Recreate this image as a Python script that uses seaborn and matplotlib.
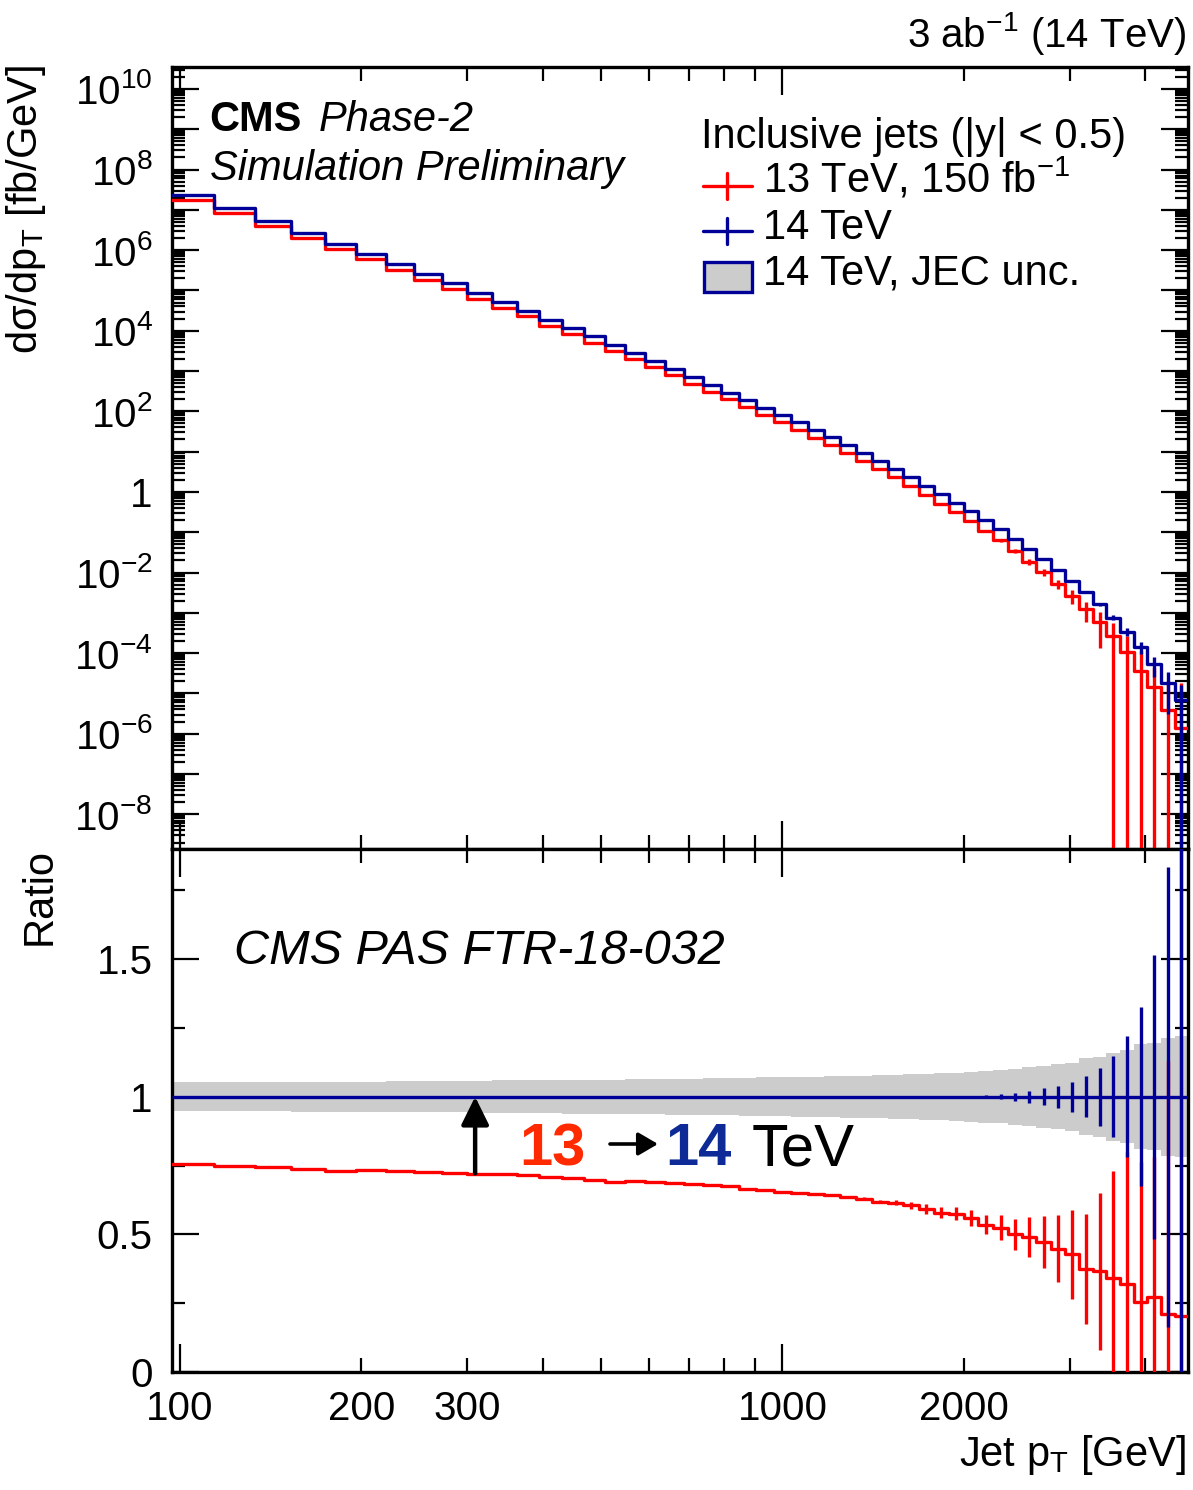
import numpy as np
import pandas as pd
import matplotlib
matplotlib.use("Agg")
import matplotlib.pyplot as plt
import seaborn as sns
from matplotlib.ticker import FixedLocator, FuncFormatter, NullFormatter
from matplotlib.patches import Rectangle, FancyArrowPatch
from matplotlib.lines import Line2D

# ---------------- data ----------------
pt_edges = [97, 114, 133, 153, 174, 196, 220, 245, 272, 300, 330, 362, 395, 430, 468,
            507, 548, 592, 638, 686, 737, 790, 846, 905, 967, 1032, 1101, 1172, 1248,
            1327, 1410, 1497, 1588, 1684, 1784, 1890, 2000, 2116, 2238, 2366, 2500, 2640,
            2787, 2941, 3103, 3273, 3450, 3637, 3832, 4037, 4252, 4477, 4713]

xsec_14tev = [2.38e7, 1.135e7, 5.31e6, 2.72e6, 1.449e6, 8.18e5, 4.47e5, 2.52e5, 1.51e5, 8.67e4,
              5.19e4, 3.16e4, 1.89e4, 1.16e4, 7.23e3, 4.50e3, 2.81e3, 1.78e3, 1.13e3, 701,
              452, 291, 192, 124, 82.8, 53.1, 34.5, 22.5, 14.4, 9.12,
              5.87, 3.72, 2.32, 1.43, 0.891, 0.542, 0.332, 0.202, 0.119, 6.82e-2,
              3.78e-2, 2.15e-2, 1.16e-2, 6.19e-3, 3.30e-3, 1.63e-3, 7.60e-4, 3.36e-4, 1.45e-4, 5.40e-5,
              1.85e-5, 6.90e-6]

xsec_13tev = [1.795e7, 8.49e6, 3.96e6, 2.01e6, 1.058e6, 6.01e5, 3.26e5, 1.832e5, 1.090e5, 6.25e4,
              3.73e4, 2.27e4, 1.338e4, 8.18e3, 5.05e3, 3.11e3, 1.947e3, 1.232e3, 775, 479,
              307, 197, 128, 82.1, 54.2, 34.6, 22.3, 14.4, 9.13, 5.75,
              3.63, 2.29, 1.40, 0.848, 0.516, 0.312, 0.186, 0.108, 0.0624, 0.0341,
              0.0185, 0.01015, 5.2e-3, 2.64e-3, 1.24e-3, 5.97e-4, 2.60e-4, 1.075e-4, 3.67e-5, 1.47e-5,
              3.87e-6, 1.39e-6]

ratio_13_over_14 = [0.754, 0.748, 0.746, 0.739, 0.730, 0.735, 0.730, 0.727, 0.722, 0.721,
                    0.718, 0.717, 0.708, 0.705, 0.699, 0.691, 0.693, 0.692, 0.686, 0.683,
                    0.679, 0.676, 0.666, 0.662, 0.655, 0.651, 0.646, 0.642, 0.634, 0.630,
                    0.619, 0.615, 0.605, 0.593, 0.579, 0.575, 0.561, 0.535, 0.524, 0.500,
                    0.490, 0.472, 0.448, 0.427, 0.375, 0.366, 0.342, 0.320, 0.253, 0.272,
                    0.209, 0.202]

# absolute stat. uncertainty on the 13 TeV ratio
err_ratio_13tev = [0, 0, 0, 0, 0, 0, 0, 0, 0, 0,
                   0, 0, 0, 0, 0, 0, 0, 0, 0, 0,
                   0, 0, 0, 0, 0.001, 0.001, 0.002, 0.002, 0.003, 0.004,
                   0.006, 0.009, 0.012, 0.018, 0.019, 0.023, 0.029, 0.035, 0.045, 0.057,
                   0.074, 0.093, 0.121, 0.16, 0.20, 0.285, 0.39, 0.48, 0.51, 0.51,
                   0.92, 2.5]

# relative stat. uncertainty of 14 TeV, 3 ab^-1
err_rel_14tev = [0, 0, 0, 0, 0, 0, 0, 0, 0, 0,
                 0, 0, 0, 0, 0, 0, 0, 0, 0, 0,
                 0, 0, 0, 0, 0, 0, 0, 0, 0, 0,
                 0, 0, 0, 0, 0.001, 0.0015, 0.002, 0.006, 0.010, 0.015,
                 0.022, 0.030, 0.040, 0.055, 0.075, 0.105, 0.148, 0.22, 0.325, 0.516,
                 0.835, 1.3]

# JEC relative uncertainty band (14 TeV)
jec_unc = [0.052, 0.053, 0.053, 0.054, 0.055, 0.055, 0.056, 0.057, 0.057, 0.058,
           0.059, 0.059, 0.060, 0.061, 0.061, 0.062, 0.063, 0.064, 0.065, 0.066,
           0.067, 0.068, 0.069, 0.070, 0.071, 0.072, 0.073, 0.074, 0.076, 0.077,
           0.079, 0.080, 0.082, 0.084, 0.086, 0.088, 0.090, 0.094, 0.097, 0.102,
           0.107, 0.113, 0.118, 0.123, 0.140, 0.145, 0.160, 0.168, 0.190, 0.195,
           0.215, 0.220]

x_major = [100, 1000]
x_minor = [200, 300, 400, 500, 600, 700, 800, 900, 2000, 3000, 4000]
x_minor_labels = [200, 300, 2000]
ratio_major = [0, 0.5, 1, 1.5]
ratio_minor = [0.25, 0.75, 1.25, 1.75]
arrow_pt = 309
arrow_from = 0.722

# ---------------- style ----------------
sns.set_theme(style="ticks")
FONT = ["Liberation Sans", "DejaVu Sans"]
plt.rcParams["font.family"] = FONT
plt.rcParams["mathtext.fontset"] = "custom"
plt.rcParams["mathtext.rm"] = "Liberation Sans"
plt.rcParams["mathtext.it"] = "Liberation Sans:italic"
plt.rcParams["mathtext.bf"] = "Liberation Sans:bold"
plt.rcParams["mathtext.default"] = "regular"
for k in ("text.color", "axes.labelcolor", "xtick.color", "ytick.color", "axes.edgecolor"):
    plt.rcParams[k] = "black"

RED = "#ff0000"
BLUE = "#000099"
GRAY = "#cccccc"

W, H = 1193, 1490
fig = plt.figure(figsize=(W / 100, H / 100), dpi=100)


def fx(x):
    return x / W


def fy(y):
    return 1 - y / H


L, R = 172, 1188
T1, B1, B2 = 67, 849, 1372
ax1 = fig.add_axes([fx(L), fy(B1), (R - L) / W, (B1 - T1) / H])
ax2 = fig.add_axes([fx(L), fy(B2), (R - L) / W, (B2 - B1) / H])

edges = np.array(pt_edges, dtype=float)
centers = 0.5 * (edges[:-1] + edges[1:])
v14 = np.array(xsec_14tev)
v13 = np.array(xsec_13tev)
rat = np.array(ratio_13_over_14)
er13 = np.array(err_ratio_13tev)
er14 = np.array(err_rel_14tev)
jec = np.array(jec_unc)

LW = 2.4

df14 = pd.DataFrame({"pt": edges, "v": np.append(v14, v14[-1])})
df13 = pd.DataFrame({"pt": edges, "v": np.append(v13, v13[-1])})
dfr = pd.DataFrame({"pt": edges, "v": np.append(rat, rat[-1])})

# ---------------- top panel ----------------
ax1.set_xscale("log")
ax1.set_yscale("log")
sns.lineplot(data=df13, x="pt", y="v", drawstyle="steps-post", color=RED, lw=LW, ax=ax1, zorder=3)
rel13 = er13 / rat
lo13 = np.where(rel13 >= 1, 1e-15, v13 * (1 - rel13))
ax1.vlines(centers, lo13, v13 * (1 + rel13), color=RED, lw=LW, zorder=3)
sns.lineplot(data=df14, x="pt", y="v", drawstyle="steps-post", color=BLUE, lw=LW, ax=ax1, zorder=4)
lo14 = np.where(er14 >= 1, 1e-15, v14 * (1 - er14))
ax1.vlines(centers, lo14, v14 * (1 + er14), color=BLUE, lw=LW, zorder=4)

ax1.set_xlim(edges[0], edges[-1])
ax1.set_ylim(1.38e-9, 3.5e10)
ax1.set_xlabel("")
ax1.set_ylabel("")

# ---------------- ratio panel ----------------
ax2.set_xscale("log")
jec_ext = np.append(jec, jec[-1])
ax2.fill_between(edges, 1 - jec_ext, 1 + jec_ext, step="post", color=GRAY, lw=0, zorder=1)
sns.lineplot(data=dfr, x="pt", y="v", drawstyle="steps-post", color=RED, lw=LW, ax=ax2, zorder=3)
ax2.vlines(centers, rat - er13, rat + er13, color=RED, lw=LW, zorder=3)
ax2.hlines(1.0, edges[0], edges[-1], color=BLUE, lw=LW, zorder=4)
ax2.vlines(centers, 1 - er14, 1 + er14, color=BLUE, lw=LW, zorder=4)
ax2.set_xlim(edges[0], edges[-1])
ax2.set_ylim(0, 1.9)
ax2.set_xlabel("")
ax2.set_ylabel("")

ax2.annotate("", xy=(arrow_pt, 1.0), xytext=(arrow_pt, arrow_from),
             arrowprops=dict(arrowstyle="-|>,head_length=0.85,head_width=0.42",
                             color="black", lw=3.2, shrinkA=0, shrinkB=0,
                             mutation_scale=20), zorder=6)

# ---------------- axes / ticks ----------------
for ax in (ax1, ax2):
    for s in ax.spines.values():
        s.set_linewidth(2.4)
        s.set_color("black")
        s.set_visible(True)
    ax.xaxis.set_major_locator(FixedLocator(x_major))
    ax.xaxis.set_minor_locator(FixedLocator(x_minor))
    ax.tick_params(axis="both", which="both", direction="in", top=True, right=True,
                   bottom=True, left=True, width=1.6, color="black")
    ax.tick_params(axis="x", which="major", length=20)
    ax.tick_params(axis="x", which="minor", length=10)
    ax.tick_params(axis="y", which="major", length=19.5, pad=14, labelsize=29)
    ax.tick_params(axis="y", which="minor", length=9.5)
    ax.set_facecolor("white")

ax1.tick_params(axis="x", which="both", labelbottom=False)
ax1.yaxis.set_major_locator(FixedLocator([10.0 ** e for e in range(-10, 12)]))
ax1.yaxis.set_minor_locator(FixedLocator([m * 10.0 ** e for e in range(-10, 12) for m in range(2, 10)]))


def ylog_fmt(v, pos):
    e = int(round(np.log10(v)))
    if e % 2:
        return ""
    if e == 0:
        return "1"
    return r"$10^{%d}$" % e


ax1.yaxis.set_major_formatter(FuncFormatter(ylog_fmt))
ax1.yaxis.set_minor_formatter(NullFormatter())

ax2.yaxis.set_major_locator(FixedLocator(ratio_major))
ax2.yaxis.set_minor_locator(FixedLocator(ratio_minor))
ax2.yaxis.set_major_formatter(FuncFormatter(lambda v, p: ("%g" % v)))
ax2.xaxis.set_major_formatter(FuncFormatter(lambda v, p: "%d" % v))
ax2.xaxis.set_minor_formatter(FuncFormatter(lambda v, p: ("%d" % v) if int(round(v)) in x_minor_labels else ""))
ax2.tick_params(axis="x", which="both", labelsize=29, pad=13)

# ---------------- texts ----------------
FS = 30
fig.text(fx(1186), fy(47), r"3 ab$^{-1}$ (14 TeV)", ha="right", va="baseline", fontsize=29)
fig.text(fx(209), fy(131), "CMS", ha="left", va="baseline", fontsize=FS, fontweight="bold")
fig.text(fx(319), fy(131), "Phase-2", ha="left", va="baseline", fontsize=FS, style="italic")
fig.text(fx(210), fy(180), "Simulation Preliminary", ha="left", va="baseline", fontsize=FS, style="italic")

fig.text(fx(701), fy(148), "Inclusive jets (|y| < 0.5)", ha="left", va="baseline", fontsize=FS)
fig.text(fx(763), fy(193), r"13 TeV, 150 fb$^{-1}$", ha="left", va="baseline", fontsize=FS)
fig.text(fx(763), fy(239), "14 TeV", ha="left", va="baseline", fontsize=FS)
fig.text(fx(763), fy(285), "14 TeV, JEC unc.", ha="left", va="baseline", fontsize=FS)
# legend symbols
for yc, col in ((186, RED), (231, BLUE)):
    fig.add_artist(Line2D([fx(703), fx(752)], [fy(yc), fy(yc)], color=col, lw=LW))
    fig.add_artist(Line2D([fx(727.5), fx(727.5)], [fy(yc - 13), fy(yc + 13)], color=col, lw=LW))
fig.add_artist(Rectangle((fx(704), fy(292)), (752 - 704) / W, (292 - 262) / H,
                         facecolor=GRAY, edgecolor=BLUE, lw=2.4, transform=fig.transFigure))

fig.text(fx(234), fy(964), "CMS PAS FTR-18-032", ha="left", va="baseline", fontsize=35, style="italic")

fig.text(fx(519), fy(1165), "13", ha="left", va="baseline", fontsize=43, fontweight="bold", color="#ff2a00")
fig.add_artist(FancyArrowPatch((fx(610), fy(1144)), (fx(658), fy(1144)), transform=fig.transFigure,
                               arrowstyle="-|>,head_length=0.6,head_width=0.35", mutation_scale=20,
                               color="black", lw=2.6, shrinkA=0, shrinkB=0))
fig.text(fx(665), fy(1165), "14", ha="left", va="baseline", fontsize=43, fontweight="bold", color="#0d2a96")
fig.text(fx(752), fy(1165), "TeV", ha="left", va="baseline", fontsize=43, color="black")

# axis titles
fig.text(fx(1186), fy(1466), r"Jet p$_{T}$ [GeV]", ha="right", va="baseline", fontsize=FS)
fig.text(fx(26), fy(65), r"d$\sigma$/dp$_{T}$ [fb/GeV]", ha="center", va="top", rotation=90, fontsize=FS)
fig.text(fx(40), fy(848), "Ratio", ha="center", va="top", rotation=90, fontsize=FS)

fig.savefig("out.png", dpi=100, facecolor="white")
